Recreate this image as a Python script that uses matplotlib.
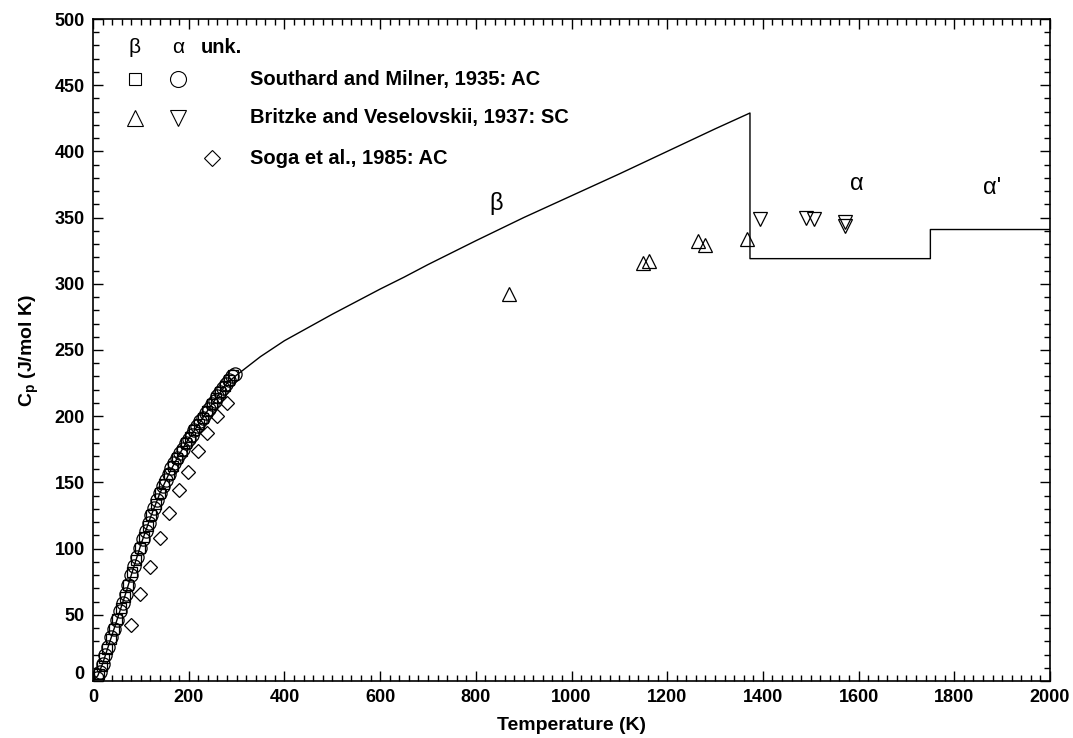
import matplotlib
matplotlib.use("Agg")
import matplotlib.pyplot as plt
from matplotlib.transforms import ScaledTranslation

plt.rcParams['font.family'] = ['Liberation Sans', 'DejaVu Sans']
plt.rcParams['mathtext.fontset'] = 'custom'
plt.rcParams['mathtext.rm'] = 'Liberation Sans'
plt.rcParams['mathtext.bf'] = 'Liberation Sans:bold'

# ---------------- data ----------------
# assessed Cp curve (beta up to 1373 K, alpha, alpha')
line_T = [0, 10, 20, 30, 40, 50, 60, 70, 80, 90, 100, 120, 140, 160, 180, 200,
          220, 240, 260, 280, 300, 325, 350, 400, 450, 500, 550, 600, 650, 700, 750,
          800, 900, 1000, 1100, 1200, 1300, 1373, 1373, 1750, 1750, 2000]
line_Cp = [0, 4, 13, 24, 35, 46, 57, 68, 80, 91.5, 103, 123.5, 142, 157.5, 171, 183,
           193.5, 204.5, 215, 225, 231, 238, 245, 257, 267, 277, 286.5, 296, 305,
           314.5, 323.5, 332.5, 350, 366.5, 383, 400, 417, 429, 319, 319, 341, 341]

# Southard and Milner, 1935: AC  (beta = squares, alpha = circles)
sm_beta_T = [12, 18, 24, 30, 37, 44, 51, 58, 66, 74, 82, 90, 98, 106, 114, 122,
             131, 140, 149, 158, 167, 176, 185, 194, 203, 212, 221, 230, 239, 248,
             257, 266, 275, 284, 293]
sm_beta_Cp = [5.5, 11, 17.5, 24, 31.5, 39.5, 47, 55, 63.5, 72.5, 82, 91.5, 100.5, 109,
              117, 125.5, 134, 142, 149, 156, 162.5, 168.5, 174, 179.5, 184.5, 189.5,
              194, 199, 204, 209, 213.5, 218, 222.5, 227, 231]
sm_alpha_T = [8, 14, 20, 26, 32, 38, 44, 50, 56, 62, 68, 74, 80, 86, 92, 98, 104,
              110, 116, 122, 128, 134, 140, 146, 152, 158, 164, 170, 176, 182, 188,
              194, 200, 206, 212, 218, 224, 230, 236, 242, 248, 254, 260, 266, 272,
              278, 284, 290, 296]
sm_alpha_Cp = [2.5, 7, 13, 19.5, 26, 33, 39.5, 46, 52.5, 59, 66, 72.5, 80, 86.5, 93.5,
               100.5, 107, 113, 119.5, 125.5, 131, 136.5, 142, 147, 151.5, 156, 160.5,
               164.5, 168.5, 172, 175.5, 179.5, 183, 186, 189.5, 192.5, 196, 199,
               202.5, 205.5, 209, 211.5, 215, 218, 221, 224, 227, 230, 232]

# Britzke and Veselovskii, 1937: SC
bv_beta_T = [870, 1150, 1163, 1265, 1279, 1367]
bv_beta_Cp = [292, 316, 317.5, 332.5, 329, 334]
bv_alpha_T = [1394, 1490, 1507, 1572, 1572]
bv_alpha_Cp = [349, 349.5, 348.7, 347, 344]

# Soga et al., 1985: AC
soga_T = [79, 98, 119, 139, 159, 180, 199, 219, 239, 260, 279]
soga_Cp = [42, 66, 86, 108, 127, 144, 158, 174, 187.5, 200, 210]

legend_labels = ["Southard and Milner, 1935: AC",
                 "Britzke and Veselovskii, 1937: SC",
                 "Soga et al., 1985: AC"]

# ---------------- figure ----------------
fig = plt.figure(figsize=(10.73, 7.38), dpi=100)
ax = fig.add_axes([93/1073, 57/738, 957/1073, 662/738])

ax.plot(line_T, line_Cp, color='black', lw=1.0, zorder=2)

mk = dict(linestyle='none', markerfacecolor='none', markeredgecolor='black',
          markeredgewidth=0.9, zorder=3)
ax.plot(sm_beta_T, sm_beta_Cp, marker='s', markersize=7.5, **mk)
ax.plot(sm_alpha_T, sm_alpha_Cp, marker='o', markersize=9.5, **mk)
ax.plot(bv_beta_T, bv_beta_Cp, marker='^', markersize=10.5, **mk)
ax.plot(bv_alpha_T, bv_alpha_Cp, marker='v', markersize=10.5, **mk)
ax.plot(soga_T, soga_Cp, marker='D', markersize=7.0, **mk)

ax.set_xlim(0, 2000)
ax.set_ylim(0, 500)
ax.set_xticks(range(0, 2001, 200))
ax.set_yticks(range(0, 501, 50))
ax.set_xticks(range(0, 2001, 20), minor=True)
ax.set_yticks(range(0, 501, 10), minor=True)
ax.tick_params(which='both', direction='in', top=True, right=True, width=1.0)
ax.tick_params(which='major', length=7.5, labelsize=13, pad=6)
ax.tick_params(which='minor', length=4.2)
for s in ax.spines.values():
    s.set_linewidth(1.2)
for lab in ax.get_xticklabels() + ax.get_yticklabels():
    lab.set_fontweight('bold')
# lift the y "0" label a bit, as in the reference
ylab0 = ax.get_yticklabels()[0]
ylab0.set_transform(ylab0.get_transform() + ScaledTranslation(0, 6/72, fig.dpi_scale_trans))

ax.set_xlabel('Temperature (K)', fontsize=14, fontweight='bold', labelpad=8)
ax.set_ylabel(r'C$_\mathbf{p}$ (J/mol K)', fontsize=14, fontweight='bold', labelpad=10)

# phase labels
ax.text(843, 352, 'β', fontsize=17, ha='center', va='bottom')
ax.text(1596, 367, 'α', fontsize=17, ha='center', va='bottom')
ax.text(1880, 364, "α'", fontsize=17, ha='center', va='bottom')

# manual legend
T = ax.transAxes
xb, xa, xu, xt = 0.0439, 0.0888, 0.1243, 0.164
yh, y1, y2, y3 = 0.9577, 0.909, 0.8505, 0.79
ax.text(xb, yh, 'β', transform=T, fontsize=15, ha='center', va='center')
ax.text(xa, yh, 'α', transform=T, fontsize=15, ha='center', va='center')
ax.text(0.1129, yh, 'unk.', transform=T, fontsize=14.5, fontweight='bold', ha='left', va='center')
lk = dict(transform=T, linestyle='none', markerfacecolor='none', markeredgecolor='black',
          markeredgewidth=0.8, clip_on=False)
ax.plot([xb], [y1], marker='s', markersize=8.4, **lk)
ax.plot([xa], [y1], marker='o', markersize=11.5, **lk)
ax.plot([xb], [y2], marker='^', markersize=11.3, **lk)
ax.plot([xa], [y2], marker='v', markersize=11.3, **lk)
ax.plot([xu], [y3], marker='D', markersize=8.0, **lk)
for yy, txt in zip([y1, y2, y3], legend_labels):
    ax.text(xt, yy, txt, transform=T, fontsize=14.5, fontweight='bold', ha='left', va='center')

fig.savefig('out.png', dpi=100)
